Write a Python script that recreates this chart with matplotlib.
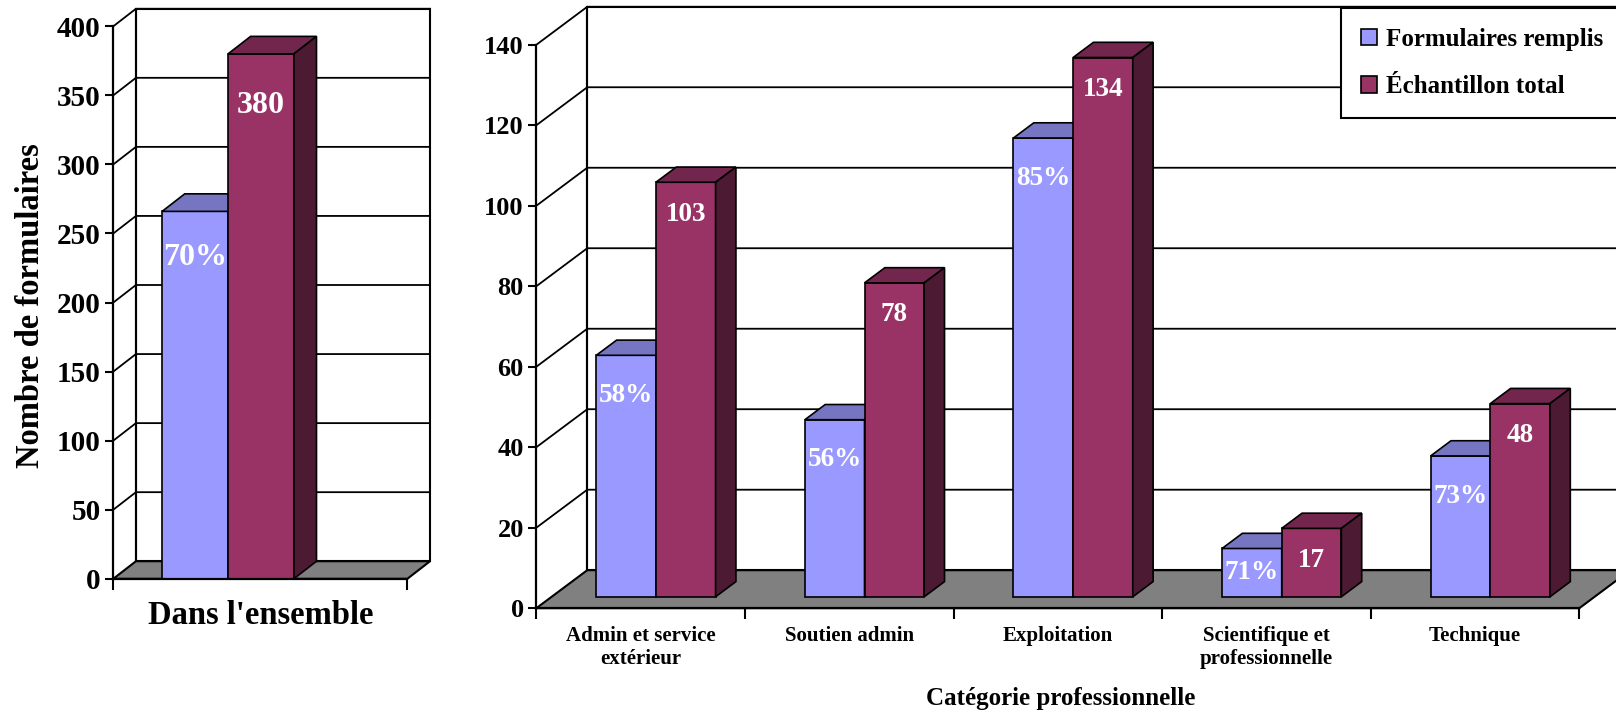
import matplotlib.pyplot as plt
from matplotlib.patches import Polygon

########################################################################
# Data

overall_category = ["Dans l'ensemble"]
overall_filled = [266]
overall_total = [380]
overall_pct = ["70%"]

categories = ["Admin et service\nextérieur", "Soutien admin", "Exploitation",
              "Scientifique et\nprofessionnelle", "Technique"]
filled = [60, 44, 114, 12, 35]
total = [103, 78, 134, 17, 48]
filled_pct = ["58%", "56%", "85%", "71%", "73%"]

series_names = ["Formulaires remplis", "Échantillon total"]

left_ticks = [0, 50, 100, 150, 200, 250, 300, 350, 400]
right_ticks = [0, 20, 40, 60, 80, 100, 120, 140]

# colours (front, top, side)
blue = ("#9999FF", "#7575C2", "#5C5C99")
red = ("#993366", "#73264D", "#4D1A33")
floor_gray = "#808080"

plt.rcParams['font.family'] = ['Liberation Serif', 'DejaVu Serif']
plt.rcParams['font.weight'] = 'bold'

fig = plt.figure(figsize=(16.16, 7.12), dpi=100)


########################################################################
# helpers for the fake 3D box and bars

def draw_box(ax, ncat, yticks, dx, dy, tick_size, label_size, label_pad):
    top = yticks[-1]
    ax.set_xlim(0, ncat + dx)
    ax.set_ylim(0, top + dy)
    ax.patch.set_visible(False)

    # back wall
    ax.add_patch(Polygon([(dx, dy), (ncat + dx, dy), (ncat + dx, top + dy), (dx, top + dy)],
                         closed=True, facecolor='white', edgecolor='black', lw=1.5,
                         clip_on=False, zorder=0))
    # gridlines running from the front axis to the back wall
    for v in yticks[1:]:
        ax.plot([0, dx, ncat + dx], [v, v + dy, v + dy], color='black', lw=1.3,
                clip_on=False, zorder=1)
    ax.plot([dx, dx], [dy, top + dy], color='black', lw=1.5, clip_on=False, zorder=1)

    # floor
    ax.add_patch(Polygon([(0, 0), (ncat, 0), (ncat + dx, dy), (dx, dy)], closed=True,
                         facecolor=floor_gray, edgecolor='black', lw=1.5,
                         clip_on=False, zorder=2))

    for side in ['top', 'right']:
        ax.spines[side].set_visible(False)
    ax.spines['left'].set_bounds(0, top)
    ax.spines['bottom'].set_bounds(0, ncat)
    for side in ['left', 'bottom']:
        ax.spines[side].set_linewidth(1.6)
        ax.spines[side].set_zorder(5)

    ax.set_yticks(yticks)
    ax.tick_params(axis='y', length=6, width=1.5, labelsize=tick_size, pad=3)
    ax.set_xticks(range(ncat + 1))
    ax.set_xticklabels([])
    ax.tick_params(axis='x', which='major', length=8, width=1.5)
    ax.set_xticks([i + 0.5 for i in range(ncat)], minor=True)
    ax.tick_params(axis='x', which='minor', length=0, labelsize=label_size, pad=label_pad)


def draw_bars(ax, lefts, values, width, front, depth, dx, dy, colors, z):
    face, top_c, side_c = colors
    yb = front * dy
    xs = [x + front * dx for x in lefts]
    bars = ax.bar(xs, values, width=width, bottom=yb, align='edge', color=face,
                  edgecolor='black', lw=1.2, zorder=z)
    ddx, ddy = depth * dx, depth * dy
    for rect in bars:
        x, w, h = rect.get_x(), rect.get_width(), rect.get_height()
        ax.add_patch(Polygon([(x, yb + h), (x + w, yb + h), (x + w + ddx, yb + h + ddy),
                              (x + ddx, yb + h + ddy)], closed=True, facecolor=top_c,
                             edgecolor='black', lw=1.2, zorder=z))
        ax.add_patch(Polygon([(x + w, yb), (x + w + ddx, yb + ddy), (x + w + ddx, yb + h + ddy),
                              (x + w, yb + h)], closed=True, facecolor=side_c,
                             edgecolor='black', lw=1.2, zorder=z))
    return bars


def label_bars(ax, bars, texts, size, offset):
    # offset in points below the bar top, but never below the middle of a short bar
    for rect, t in zip(bars, texts):
        x_mid = rect.get_x() + rect.get_width() / 2
        y_top = rect.get_y() + rect.get_height()
        y0_px = ax.transData.transform((x_mid, rect.get_y()))[1]
        y1_px = ax.transData.transform((x_mid, y_top))[1]
        half_pt = (y1_px - y0_px) / 2 * 72 / fig.dpi
        ax.annotate(t, (x_mid, y_top), xytext=(0, -min(offset, half_pt)),
                    textcoords='offset points', ha='center', va='center',
                    color='white', fontsize=size, fontweight='bold', zorder=10)


########################################################################
# Left chart: overall

dxL, dyL = 0.077, 12.7
axL = fig.add_axes([0.0701, 0.1871, 0.196, 0.8006])
draw_box(axL, len(overall_category), left_ticks, dxL, dyL, 21, 23.5, 15)
axL.set_xticklabels(overall_category, minor=True)

wL = 0.224
bL1 = draw_bars(axL, [i + 0.39 - wL for i in range(len(overall_filled))], overall_filled,
                wL, 0.0, 1.0, dxL, dyL, blue, 3)
bL2 = draw_bars(axL, [i + 0.39 for i in range(len(overall_total))], overall_total,
                wL, 0.0, 1.0, dxL, dyL, red, 4)
label_bars(axL, bL1, overall_pct, 23, 33)
label_bars(axL, bL2, [str(v) for v in overall_total], 23, 37)

fig.text(31 / 1616, 1 - 306 / 712, "Nombre de formulaires", rotation=90,
         ha='center', va='center', fontsize=23.5, fontweight='bold')


########################################################################
# Right chart: by category

dxR, dyR = 0.244, 9.44
axR = fig.add_axes([0.3319, 0.1458, 0.6769, 0.8447])
draw_box(axR, len(categories), right_ticks, dxR, dyR, 19, 15, 13)
axR.set_xticklabels(categories, minor=True)

wR = 0.286
bR1 = draw_bars(axR, [i + 0.5 - wR for i in range(len(filled))], filled,
                wR, 0.3, 0.4, dxR, dyR, blue, 3)
bR2 = draw_bars(axR, [i + 0.5 for i in range(len(total))], total,
                wR, 0.3, 0.4, dxR, dyR, red, 4)
label_bars(axR, bR1, filled_pct, 19.5, 29)
label_bars(axR, bR2, [str(v) for v in total], 19.5, 23)

fig.text(1061 / 1616, 13 / 712, "Catégorie professionnelle", ha='center', va='center',
         fontsize=18, fontweight='bold')

# legend, its box runs past the right edge like in the original
leg = fig.legend([bR1, bR2], series_names, loc='upper left', mode='expand',
                 bbox_to_anchor=(1341 / 1616, 1 - 115 / 712, 0.2, 107 / 712), fontsize=18,
                 frameon=True, fancybox=False, edgecolor='black', framealpha=1,
                 handlelength=0.64, handleheight=0.64, handletextpad=0.35,
                 labelspacing=0.97, borderpad=0.8, borderaxespad=0)
leg.get_frame().set_linewidth(1.5)

fig.savefig("out.png", dpi=100)
